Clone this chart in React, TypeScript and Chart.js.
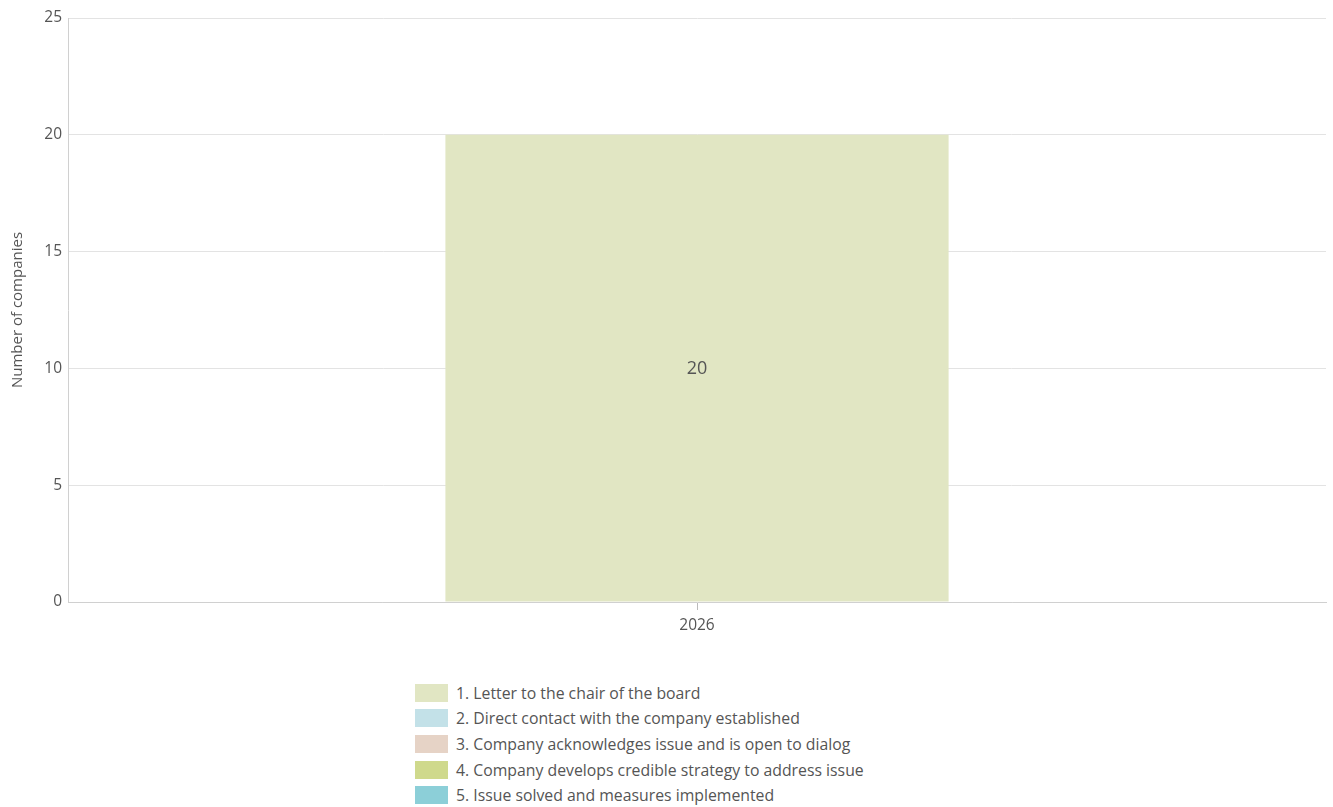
import React, { useEffect, useRef } from "react";
import { Chart, registerables } from "chart.js";

Chart.register(...registerables);

const categories = ["2026"];
const seriesNames = [
  "1. Letter to the chair of the board",
  "2. Direct contact with the company established",
  "3. Company acknowledges issue and is open to dialog",
  "4. Company develops credible strategy to address issue",
  "5. Issue solved and measures implemented",
];
const seriesValues = [[20], [0], [0], [0], [0]];
const seriesColors = ["#e1e6c3", "#c3e1e8", "#e6d3c6", "#cfd98c", "#8ccfd8"];
const yTicks = [0, 5, 10, 15, 20, 25];

const FONT = "'Open Sans', 'Noto Sans', sans-serif";
const TEXT = "#555555";

const valueLabels = {
  id: "valueLabels",
  afterDatasetsDraw(chart: any) {
    const ctx = chart.ctx;
    ctx.save();
    ctx.font = `18px ${FONT}`;
    ctx.fillStyle = TEXT;
    ctx.textAlign = "center";
    ctx.textBaseline = "middle";
    chart.data.datasets.forEach((ds: any, di: number) => {
      const meta = chart.getDatasetMeta(di);
      meta.data.forEach((bar: any, i: number) => {
        const v = ds.data[i];
        if (!v) return;
        const { x, y, base } = bar.getProps(["x", "y", "base"], true);
        ctx.fillText(String(v), x, (y + base) / 2 + 1);
      });
    });
    ctx.restore();
  },
};

export default function App() {
  const ref = useRef<HTMLCanvasElement>(null);
  useEffect(() => {
    document.body.style.margin = "0";
    const chart = new Chart(ref.current!, {
      type: "bar",
      data: {
        labels: categories,
        datasets: seriesNames.map((name, i) => ({
          label: name,
          data: seriesValues[i],
          backgroundColor: seriesColors[i],
          borderWidth: 0,
          barPercentage: 0.5,
          categoryPercentage: 0.8,
        })),
      },
      options: {
        animation: false,
        responsive: false,
        layout: { padding: { top: 18, right: 7, left: 9, bottom: 0 } },
        plugins: { legend: { display: false }, tooltip: { enabled: false } },
        scales: {
          x: {
            stacked: true,
            grid: { display: true, drawOnChartArea: false, offset: false, tickLength: 8, color: "#bbbbbb" },
            border: { display: true, color: "#d0d0d0" },
            ticks: { color: TEXT, font: { family: FONT, size: 15.5 }, padding: 6 },
            afterFit: (s: any) => { s.height = 38; },
          },
          y: {
            stacked: true,
            min: 0,
            max: 25,
            afterBuildTicks: (s: any) => { s.ticks = yTicks.map((v) => ({ value: v })); },
            grid: { color: "#e3e3e3", tickLength: 0, drawTicks: false },
            border: { display: true, color: "#d0d0d0" },
            ticks: { color: TEXT, font: { family: FONT, size: 15.5 }, padding: 6 },
            title: { display: true, text: "Number of companies", color: TEXT, font: { family: FONT, size: 15 }, padding: 0 },
            afterFit: (s: any) => { s.width = 59; },
          },
        },
      },
      plugins: [valueLabels],
    });
    return () => chart.destroy();
  }, []);

  return (
    <div style={{ position: "relative", width: 1333, height: 807, fontFamily: FONT }}>
      <canvas ref={ref} width={1333} height={640} style={{ display: "block" }} />
      <div style={{ position: "absolute", left: 415, top: 680 }}>
        {seriesNames.map((n, i) => (
          <div key={n} style={{ display: "flex", alignItems: "center", height: 25.6 }}>
            <span style={{ display: "inline-block", width: 33, height: 18, background: seriesColors[i], marginRight: 8 }} />
            <span style={{ color: TEXT, fontSize: 15.8, whiteSpace: "nowrap" }}>{n}</span>
          </div>
        ))}
      </div>
    </div>
  );
}
